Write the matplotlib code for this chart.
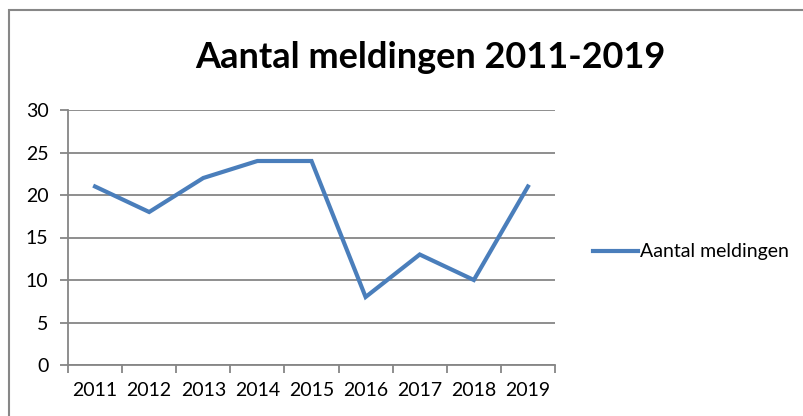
import matplotlib
matplotlib.use("Agg")
import matplotlib.pyplot as plt
from matplotlib.patches import Rectangle

years = ["2011", "2012", "2013", "2014", "2015", "2016", "2017", "2018", "2019"]
meldingen = [21, 18, 22, 24, 24, 8, 13, 10, 21]
series_name = "Aantal meldingen"
title = "Aantal meldingen 2011-2019"

plt.rcParams['font.family'] = ['Lato', 'DejaVu Sans']

fig = plt.figure(figsize=(8.04, 4.16), dpi=100)
ax = fig.add_axes([68/804, 1-365/416, (555-68)/804, (365-110)/416])

# outer chart frame (cut off at right and bottom like the screenshot)
fig.patches.append(Rectangle((9/804, -0.05), 1.1, 1-10/416+0.05, transform=fig.transFigure,
                             fill=False, edgecolor='#878787', linewidth=1.5))

x = list(range(len(years)))
ax.plot(x, meldingen, color='#4A7EBB', linewidth=3.0, solid_joinstyle='miter', label=series_name)

ax.set_xlim(-0.5, len(years) - 0.5)
ax.set_ylim(0, 30)
ax.set_yticks(range(0, 31, 5))
ax.grid(axis='y', color='#868686', linewidth=1.3)
ax.set_axisbelow(True)

ax.set_xticks(x)
ax.set_xticklabels(years)
ax.set_xticks([i - 0.5 for i in range(len(years) + 1)], minor=True)
ax.tick_params(axis='x', which='major', length=0, pad=12, labelsize=14)
ax.tick_params(axis='x', which='minor', length=6, width=1.3, color='#868686')
ax.tick_params(axis='y', length=6, width=1.3, color='#868686', labelsize=14, pad=8)

for side in ['top', 'right']:
    ax.spines[side].set_visible(False)
for side in ['left', 'bottom']:
    ax.spines[side].set_color('#868686')
    ax.spines[side].set_linewidth(1.3)

fig.text(430/804, 1-58/416, title, ha='center', va='center', fontsize=26, fontweight='bold')

fig.legend(loc='center left', bbox_to_anchor=(576/804, 1-252/416), frameon=False,
           fontsize=14, handlelength=2.3, handletextpad=0.1)

fig.savefig('out.png', dpi=100)
